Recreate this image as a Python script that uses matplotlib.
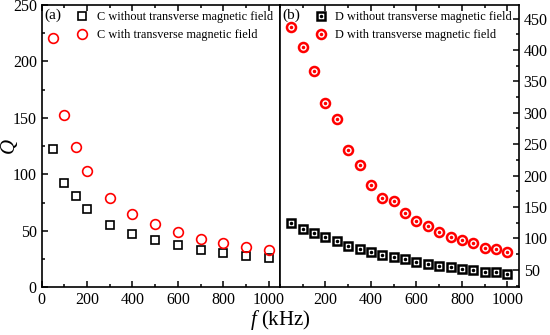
import matplotlib.pyplot as plt
from matplotlib.ticker import MultipleLocator

plt.rcParams['font.family'] = ['Liberation Serif', 'DejaVu Serif']
plt.rcParams['mathtext.fontset'] = 'custom'
plt.rcParams['mathtext.it'] = 'Liberation Serif:italic'

# panel (a): sample C
f_c = [50, 100, 150, 200, 300, 400, 500, 600, 700, 800, 900, 1000]
q_c_off = [122, 92.5, 81, 69.7, 55.3, 47.6, 41.8, 37.6, 33.5, 30.8, 28.1, 26.1]
q_c_on = [220.5, 152.7, 124.6, 103, 79.5, 65.3, 55.9, 48.8, 43.2, 39.6, 35.6, 33.2]

# panel (b): sample D
f_d = [50, 100, 150, 200, 250, 300, 350, 400, 450, 500,
       550, 600, 650, 700, 750, 800, 850, 900, 950, 1000]
q_d_off = [124.2, 114.7, 108.8, 102.5, 96.1, 88.2, 82.9, 78.6, 74.4, 71.2,
           67.5, 62.7, 59.5, 56.9, 54.8, 52.1, 50.5, 47.3, 46.3, 44.1]
q_d_on = [436.8, 405, 366.4, 315, 290.5, 240.8, 216.9, 184.7, 164.9, 160.2,
          140.1, 128.4, 120.4, 109.9, 103, 97.7, 93.4, 84.5, 82.9, 79.1]

fig = plt.figure(figsize=(5.5, 3.35), dpi=100)
ax1 = fig.add_axes([0.0758, 0.1418, 0.4333, 0.8442])
ax2 = fig.add_axes([0.5091, 0.1418, 0.4342, 0.8442])

for ax in (ax1, ax2):
    for s in ax.spines.values():
        s.set_linewidth(1.2)
    ax.set_xlim(0, 1050)
    ax.xaxis.set_major_locator(MultipleLocator(200))
    ax.xaxis.set_minor_locator(MultipleLocator(100))
    ax.tick_params(which='both', direction='in', top=True, width=1.1,
                   labelsize=11.5)
    ax.tick_params(which='major', length=4)
    ax.tick_params(which='minor', length=2.5)

leg_kw = dict(loc='upper right', bbox_to_anchor=(1.0, 1.0), frameon=False,
              fontsize=8.8, handlelength=1.0, handletextpad=0.7,
              borderaxespad=0.15, labelspacing=0.45)

# (a)
ax1.plot(f_c, q_c_off, ls='none', marker='s', ms=6, mfc='none', mec='black',
         mew=1.2, label='C without transverse magnetic field')
ax1.plot(f_c, q_c_on, ls='none', marker='o', ms=7, mfc='none', mec='red',
         mew=1.2, label='C with transverse magnetic field')
ax1.set_ylim(0, 250)
ax1.yaxis.set_major_locator(MultipleLocator(50))
ax1.yaxis.set_minor_locator(MultipleLocator(25))
ax1.tick_params(axis='y', which='both', right=False)
ax1.text(0.01, 0.985, '(a)', transform=ax1.transAxes, ha='left', va='top',
         fontsize=11)
ax1.legend(**leg_kw)

# (b)
sq = ax2.plot(f_d, q_d_off, ls='none', marker='s', ms=5.5, mfc='none',
              mec='black', mew=1.8)[0]
sqd = ax2.plot(f_d, q_d_off, ls='none', marker='o', ms=1.5, color='black')[0]
ci = ax2.plot(f_d, q_d_on, ls='none', marker='o', ms=6.5, mfc='none',
              mec='red', mew=1.8)[0]
cid = ax2.plot(f_d, q_d_on, ls='none', marker='o', ms=1.5, color='red')[0]
ax2.set_ylim(22, 472)
ax2.yaxis.set_major_locator(MultipleLocator(50))
ax2.yaxis.set_minor_locator(MultipleLocator(25))
ax2.yaxis.tick_right()
ax2.tick_params(axis='y', which='both', left=False, right=True,
                labelright=True, labelleft=False)
ax2.set_xticks([200, 400, 600, 800, 1000])
ax2.text(0.01, 0.985, '(b)', transform=ax2.transAxes, ha='left', va='top',
         fontsize=11)
ax2.legend([(sq, sqd), (ci, cid)],
           ['D without transverse magnetic field',
            'D with transverse magnetic field'], **leg_kw)

fig.text(10 / 550, 1 - 147 / 335, '$Q$', rotation=90, ha='center',
         va='center', fontsize=15)
fig.text(0.51, 0.045, '$f$ (kHz)', ha='center', va='center', fontsize=15)

fig.savefig('out.png', dpi=100)
